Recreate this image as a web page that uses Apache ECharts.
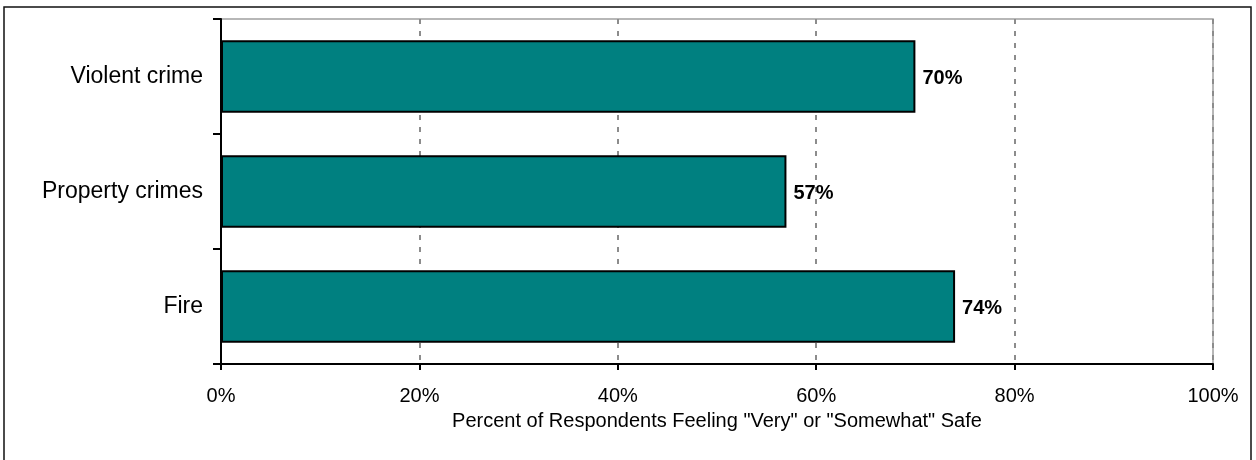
<!DOCTYPE html>
<html>
<head>
<meta charset="utf-8">
<script src="https://cdn.jsdelivr.net/npm/echarts@6/dist/echarts.min.js"></script>
<style>
html,body{margin:0;padding:0;background:#fff;}
#chart{width:1256px;height:460px;}
</style>
</head>
<body>
<div id="chart"></div>
<script>
const categories = ['Violent crime', 'Property crimes', 'Fire'];
const values = [70, 57, 74];
const xTicks = [0, 20, 40, 60, 80, 100];
const axisTitle = 'Percent of Respondents Feeling "Very" or "Somewhat" Safe';

const chart = echarts.init(document.getElementById('chart'), null, {renderer: 'canvas'});
const font = 'Liberation Sans, Arial, sans-serif';
chart.setOption({
  animation: false,
  backgroundColor: '#fff',
  graphic: [{
    type: 'rect',
    shape: {x: 4, y: 7, width: 1247, height: 480},
    style: {fill: 'none', stroke: '#111', lineWidth: 1.5},
    silent: true
  }],
  grid: {
    left: 221, right: 43, top: 19, bottom: 96,
    show: true, borderColor: '#a0a0a0', borderWidth: 1.5, backgroundColor: 'transparent'
  },
  xAxis: {
    type: 'value',
    min: xTicks[0], max: xTicks[xTicks.length - 1], interval: 20,
    name: axisTitle,
    nameLocation: 'middle',
    nameGap: 47,
    nameTextStyle: {fontFamily: font, fontSize: 20, color: '#000'},
    axisLine: {show: true, lineStyle: {color: '#000', width: 2}},
    axisTick: {show: true, inside: false, length: 6, lineStyle: {color: '#000', width: 2}},
    axisLabel: {formatter: '{value}%', fontFamily: font, fontSize: 20, color: '#000', margin: 22},
    splitLine: {show: true, lineStyle: {color: '#8c8c8c', width: 2, type: [5, 7]}}
  },
  yAxis: {
    type: 'category',
    data: categories,
    inverse: true,
    axisLine: {show: true, lineStyle: {color: '#000', width: 2}},
    axisTick: {show: true, inside: false, length: 8, lineStyle: {color: '#000', width: 2}},
    axisLabel: {fontFamily: font, fontSize: 23, color: '#000', margin: 18},
    splitLine: {show: false}
  },
  series: [{
    type: 'bar',
    data: values,
    barCategoryGap: '37%',
    itemStyle: {color: '#008080', borderColor: '#000', borderWidth: 2},
    label: {
      show: true, position: 'right', distance: 7, offset: [0, 2],
      formatter: '{c}%',
      fontFamily: font, fontSize: 20, fontWeight: 'bold', color: '#000'
    }
  }]
});
</script>
</body>
</html>
